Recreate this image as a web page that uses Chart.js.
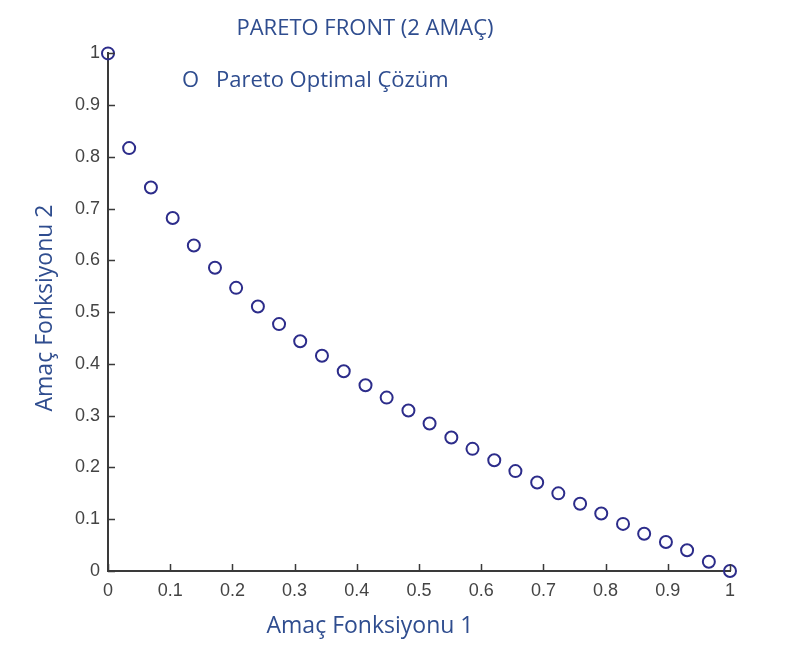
<!DOCTYPE html>
<html>
<head>
<meta charset="utf-8">
<script src="https://cdn.jsdelivr.net/npm/chart.js@4"></script>
<style>
  html, body { margin: 0; padding: 0; background: #fff; }
  #wrap { width: 793px; height: 650px; }
</style>
</head>
<body>
<div id="wrap"><canvas id="paretoChart" width="793" height="650"></canvas></div>
<script>
// Pareto front points (objective 1, objective 2)
const amac1 = [0, 0.034, 0.069, 0.104, 0.138, 0.172, 0.206, 0.241, 0.275, 0.309,
  0.344, 0.379, 0.414, 0.448, 0.483, 0.517, 0.552, 0.586, 0.621, 0.655,
  0.690, 0.724, 0.759, 0.793, 0.828, 0.862, 0.897, 0.931, 0.966, 1];
const amac2 = [1, 0.817, 0.741, 0.682, 0.629, 0.586, 0.547, 0.511, 0.477, 0.444,
  0.416, 0.386, 0.359, 0.335, 0.310, 0.285, 0.258, 0.236, 0.214, 0.193,
  0.171, 0.150, 0.130, 0.111, 0.091, 0.072, 0.056, 0.040, 0.018, 0];
const xTicks = [0, 0.1, 0.2, 0.3, 0.4, 0.5, 0.6, 0.7, 0.8, 0.9, 1];
const yTicks = [0, 0.1, 0.2, 0.3, 0.4, 0.5, 0.6, 0.7, 0.8, 0.9, 1];

const textBlue = '#2f4d8f';
const axisGray = '#3a3a3a';
const tickFont = { family: 'Liberation Sans, Arial, sans-serif', size: 18 };
const labelFont = '23px "Open Sans", sans-serif';

// inward tick marks, legend line and axis titles
const extras = {
  id: 'extras',
  afterDraw(chart) {
    const { ctx, chartArea, scales } = chart;
    ctx.save();
    ctx.strokeStyle = axisGray;
    ctx.lineWidth = 1.5;
    ctx.beginPath();
    xTicks.forEach(v => {
      const px = Math.round(scales.x.getPixelForValue(v)) + 0.5;
      ctx.moveTo(px, chartArea.bottom);
      ctx.lineTo(px, chartArea.bottom - 7);
    });
    yTicks.forEach(v => {
      const py = Math.round(scales.y.getPixelForValue(v)) + 0.5;
      ctx.moveTo(chartArea.left, py);
      ctx.lineTo(chartArea.left + 7, py);
    });
    ctx.stroke();

    ctx.fillStyle = textBlue;
    ctx.font = '22px "Open Sans", sans-serif';
    ctx.textBaseline = 'middle';
    ctx.textAlign = 'left';
    ctx.fillText('O', 182, 81);
    ctx.fillText('Pareto Optimal Çözüm', 216, 81);

    ctx.font = labelFont;
    ctx.textAlign = 'center';
    ctx.fillText('Amaç Fonksiyonu 1', 370, 626);
    ctx.translate(45, 308);
    ctx.rotate(-Math.PI / 2);
    ctx.fillText('Amaç Fonksiyonu 2', 0, 0);
    ctx.restore();
  }
};

new Chart(document.getElementById('paretoChart'), {
  type: 'scatter',
  data: {
    datasets: [{
      label: 'Pareto Optimal Çözüm',
      data: amac1.map((x, i) => ({ x: x, y: amac2[i] })),
      pointStyle: 'circle',
      pointRadius: 6,
      pointHoverRadius: 6,
      pointBorderWidth: 2,
      borderColor: '#2c2c8a',
      backgroundColor: 'rgba(0,0,0,0)',
      clip: false
    }]
  },
  options: {
    responsive: false,
    animation: false,
    events: [],
    layout: { padding: { left: 0, right: 63, top: 0, bottom: 0 } },
    plugins: {
      legend: { display: false },
      tooltip: { enabled: false },
      title: {
        display: true,
        text: 'PARETO FRONT (2 AMAÇ)',
        color: textBlue,
        font: { family: 'Open Sans, sans-serif', size: 22, weight: 'normal', lineHeight: 1.2 },
        padding: { top: 16, bottom: 11 }
      }
    },
    scales: {
      x: {
        type: 'linear',
        min: 0,
        max: 1,
        afterFit(scale) { scale.height = 79; },
        afterBuildTicks(scale) { scale.ticks = xTicks.map(v => ({ value: v })); },
        ticks: {
          color: '#444',
          font: tickFont,
          padding: 9,
          maxRotation: 0,
          callback: v => String(v)
        },
        grid: { drawOnChartArea: false, drawTicks: false },
        border: { color: axisGray, width: 2 }
      },
      y: {
        type: 'linear',
        min: 0,
        max: 1,
        afterFit(scale) { scale.width = 108; },
        afterBuildTicks(scale) { scale.ticks = yTicks.map(v => ({ value: v })); },
        ticks: {
          color: '#444',
          font: tickFont,
          padding: 8,
          callback: v => String(v)
        },
        grid: { drawOnChartArea: false, drawTicks: false },
        border: { color: axisGray, width: 2 }
      }
    }
  },
  plugins: [extras]
});
</script>
</body>
</html>
